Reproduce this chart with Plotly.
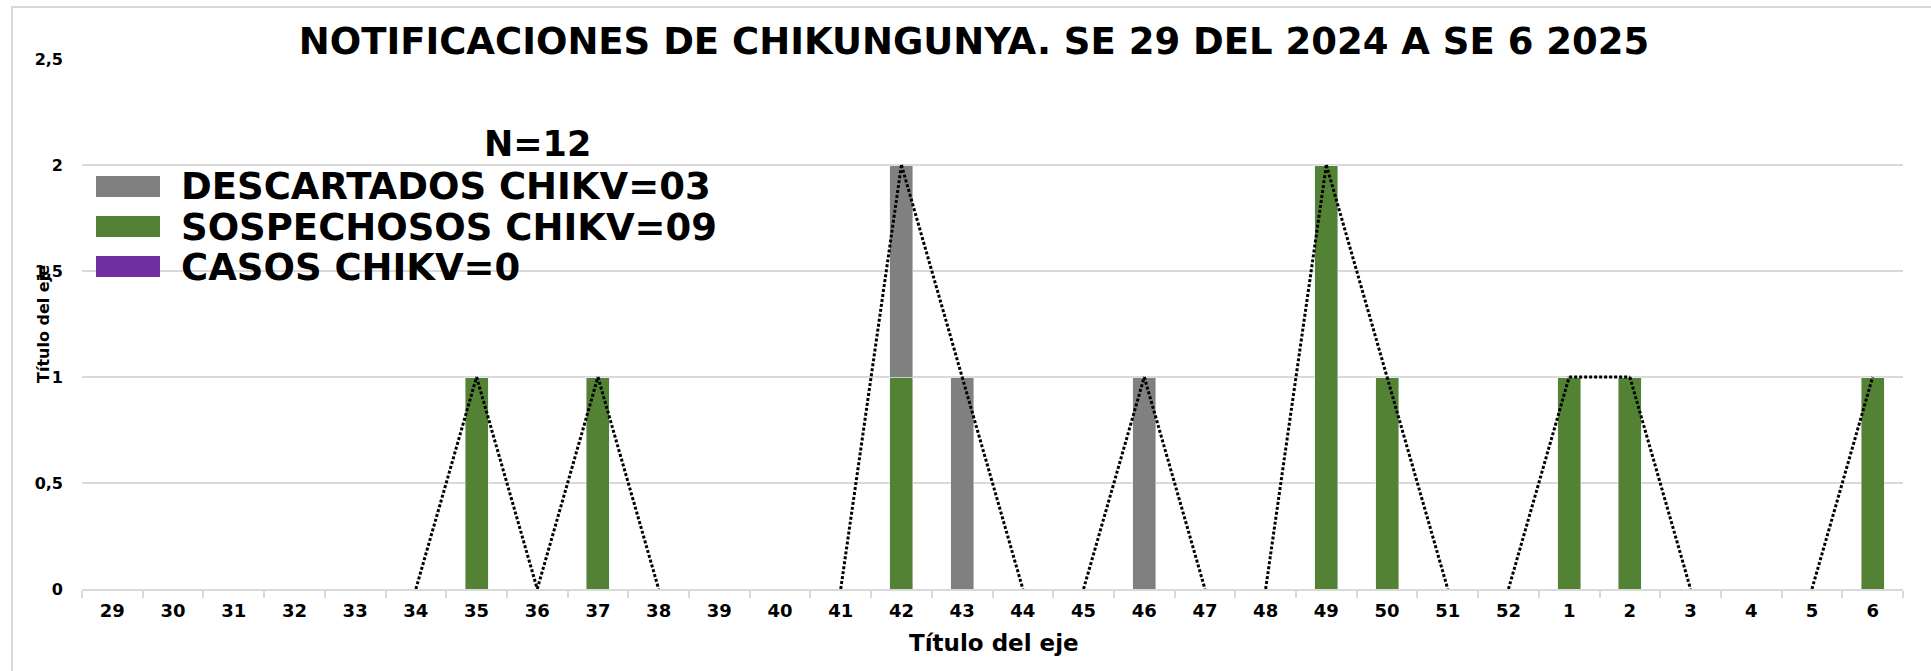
import plotly.graph_objects as go

# ==== DATOS: notificaciones por semana epidemiológica ==== #
semanas = ['29', '30', '31', '32', '33', '34', '35', '36', '37', '38',
           '39', '40', '41', '42', '43', '44', '45', '46', '47', '48',
           '49', '50', '51', '52', '1', '2', '3', '4', '5', '6']
sospechosos = [0, 0, 0, 0, 0, 0, 1, 0, 1, 0,
               0, 0, 0, 1, 0, 0, 0, 0, 0, 0,
               2, 1, 0, 0, 1, 1, 0, 0, 0, 1]
descartados = [0, 0, 0, 0, 0, 0, 0, 0, 0, 0,
               0, 0, 0, 1, 1, 0, 0, 1, 0, 0,
               0, 0, 0, 0, 0, 0, 0, 0, 0, 0]
casos = [0, 0, 0, 0, 0, 0, 0, 0, 0, 0,
         0, 0, 0, 0, 0, 0, 0, 0, 0, 0,
         0, 0, 0, 0, 0, 0, 0, 0, 0, 0]

nombres = ['DESCARTADOS CHIKV=03', 'SOSPECHOSOS CHIKV=09', 'CASOS CHIKV=0']
titulo_leyenda = 'N=12'
y_ticks = [0, 0.5, 1, 1.5, 2, 2.5]
y_ticktext = ['0', '0,5', '1', '1,5', '2', '2,5']

GRIS = '#808080'
VERDE = '#548235'
MORADO = '#7030A0'
FUENTE = 'DejaVu Sans'

# ==== medidas de la figura (px) ==== #
W, H = 1931, 671
L, R, T, B = 82, 28, 59, 82
PW, PH = W - L - R, H - T - B


def px(x):
    return (x - L) / PW


def py(y):
    return (H - B - y) / PH


# total semanal (línea punteada); solo tramos donde hay alguna notificación
total = [a + b + c for a, b, c in zip(sospechosos, descartados, casos)]
lx, ly = [], []
for i in range(len(semanas) - 1):
    if total[i] or total[i + 1]:
        lx += [semanas[i], semanas[i + 1], semanas[i + 1]]
        ly += [total[i], total[i + 1], None]

fig = go.Figure()
fig.add_trace(go.Bar(x=semanas, y=sospechosos, name=nombres[1], marker_color=VERDE))
fig.add_trace(go.Bar(x=semanas, y=descartados, name=nombres[0], marker_color=GRIS))
fig.add_trace(go.Bar(x=semanas, y=casos, name=nombres[2], marker_color=MORADO))
fig.add_trace(go.Scatter(x=lx, y=ly, mode='lines', connectgaps=False,
                         line=dict(color='black', width=3, dash='3px,2px'),
                         showlegend=False, hoverinfo='skip'))

fig.update_layout(
    width=W, height=H,
    margin=dict(l=L, r=R, t=T, b=B, autoexpand=False),
    barmode='stack',
    bargap=0.62,
    plot_bgcolor='white',
    paper_bgcolor='white',
    showlegend=False,
    title=dict(
        text='NOTIFICACIONES DE CHIKUNGUNYA. SE 29 DEL 2024 A SE 6 2025',
        x=974 / W, xref='container', xanchor='center',
        y=1 - 41 / H, yref='container', yanchor='middle',
        font=dict(family=FUENTE, size=37, color='black', weight='bold'),
    ),
    xaxis=dict(
        type='category',
        categoryorder='array',
        categoryarray=semanas,
        showline=True,
        linecolor='#d9d9d9',
        linewidth=2,
        showgrid=False,
        ticks='outside',
        tickson='boundaries',
        ticklen=7,
        tickwidth=2,
        tickcolor='#d9d9d9',
        ticklabelstandoff=4,
        tickfont=dict(family=FUENTE, size=18, color='black', weight='bold'),
    ),
    yaxis=dict(
        range=[0, 2.5],
        tickvals=y_ticks,
        ticktext=y_ticktext,
        showgrid=True,
        gridcolor='#d9d9d9',
        gridwidth=2,
        zeroline=False,
        showline=False,
        ticklabelstandoff=18,
        tickfont=dict(family=FUENTE, size=16, color='black', weight='bold'),
    ),
)

# marco del área del gráfico
fig.add_shape(type='rect', xref='paper', yref='paper',
              x0=px(12), x1=px(W + 10), y0=py(H + 10), y1=py(7),
              line=dict(color='#d9d9d9', width=2), layer='below')

# títulos de los ejes
fig.add_annotation(text='Título del eje', xref='paper', yref='paper',
                   x=px(994), y=py(643), showarrow=False,
                   xanchor='center', yanchor='middle',
                   font=dict(family=FUENTE, size=23, color='black', weight='bold'))
fig.add_annotation(text='Título del eje', xref='paper', yref='paper',
                   x=px(43), y=py(324), showarrow=False, textangle=-90,
                   xanchor='center', yanchor='middle',
                   font=dict(family=FUENTE, size=16, color='black', weight='bold'))

# leyenda
fig.add_annotation(text=titulo_leyenda, xref='paper', yref='paper',
                   x=px(537), y=py(144), showarrow=False,
                   xanchor='center', yanchor='middle',
                   font=dict(family=FUENTE, size=35, color='black', weight='bold'))
colores = [GRIS, VERDE, MORADO]
for k, (nom, col) in enumerate(zip(nombres, colores)):
    yc = 187 + 40 * k
    fig.add_shape(type='rect', xref='paper', yref='paper',
                  x0=px(96), x1=px(160), y0=py(yc + 10), y1=py(yc - 11),
                  fillcolor=col, line=dict(width=0))
    fig.add_annotation(text=nom, xref='paper', yref='paper',
                       x=px(179), y=py(yc), showarrow=False,
                       xanchor='left', yanchor='middle',
                       font=dict(family=FUENTE, size=37, color='black', weight='bold'))

# sin margen del <body> para que el gráfico ocupe la ventana exacta
fig.write_html("out.html", config={'displayModeBar': False},
               post_script="document.body.style.margin='0';")
